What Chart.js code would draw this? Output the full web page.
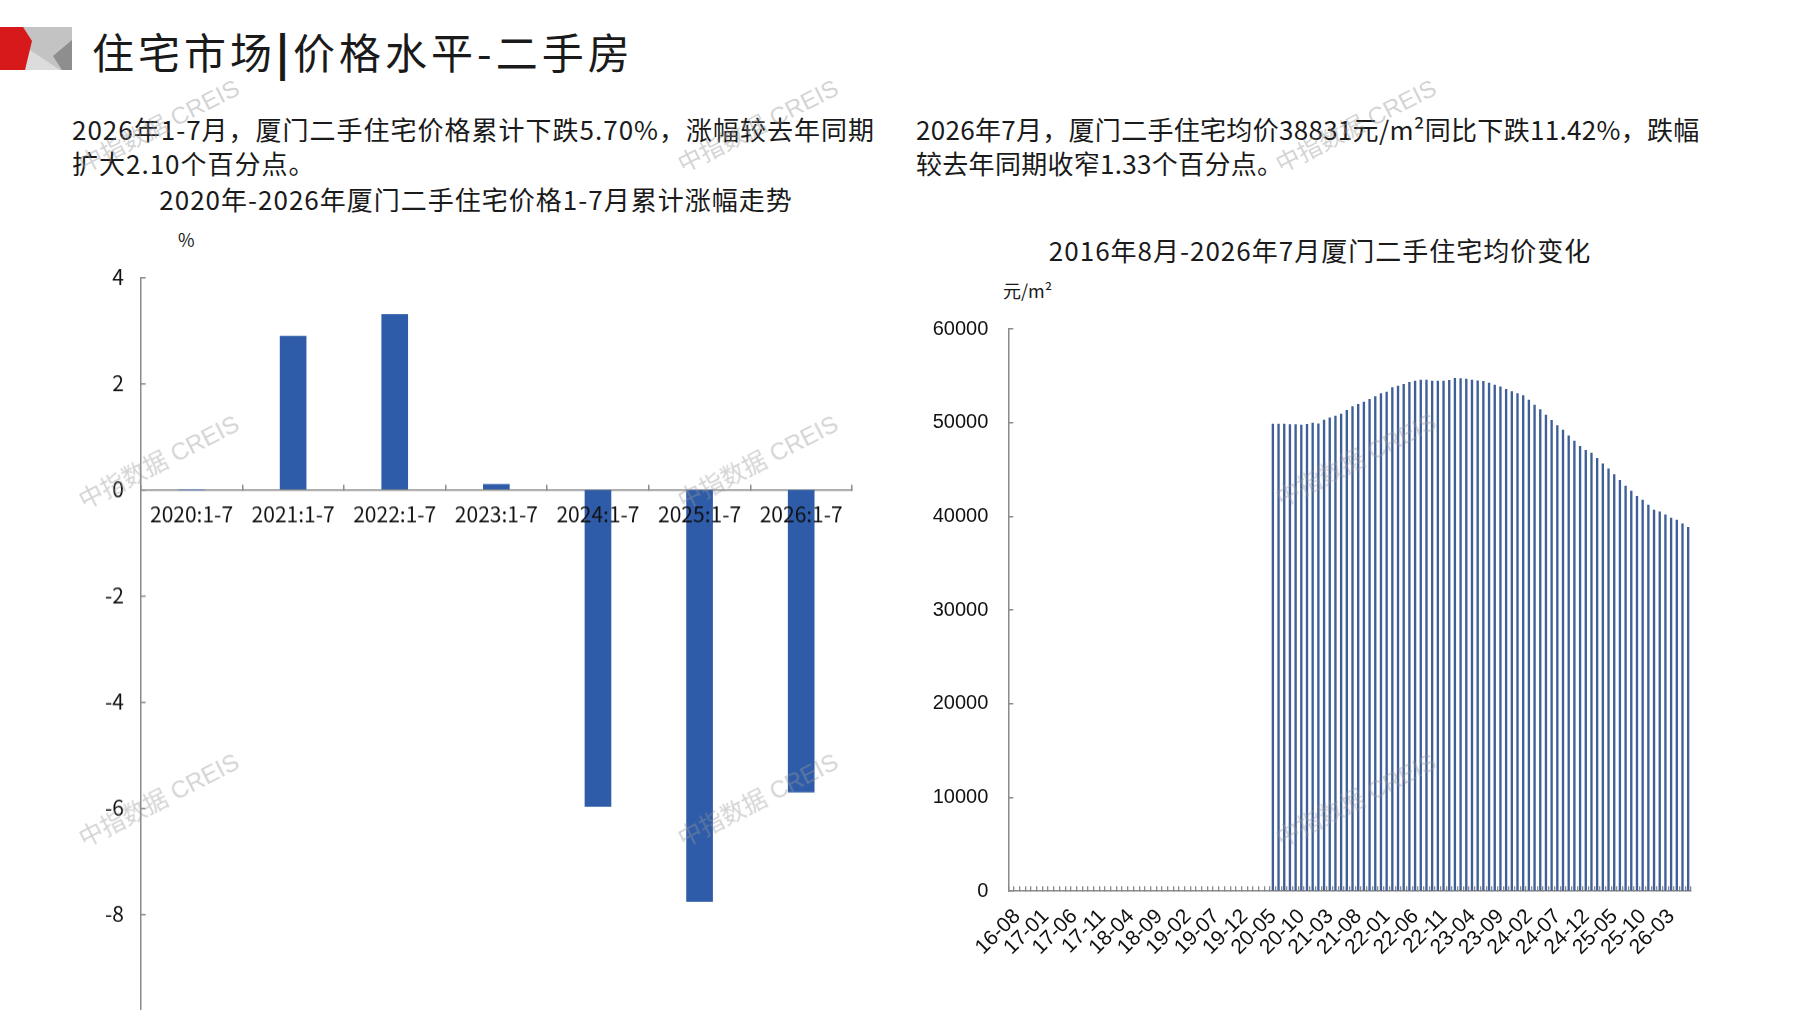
<!DOCTYPE html>
<html lang="zh-CN">
<head>
<meta charset="utf-8">
<title>住宅市场|价格水平-二手房</title>
<script src="https://cdn.jsdelivr.net/npm/chart.js@4.4.1/dist/chart.umd.min.js"></script>
<style>
html, body { margin: 0; padding: 0; background: #fff; }
body { width: 1797px; height: 1010px; overflow: hidden; position: relative;
       font-family: "Noto Sans CJK SC", sans-serif; color: #1a1a1a; }
.abs { position: absolute; white-space: nowrap; }
#head { left: 92px; top: 22px; font-size: 42px; letter-spacing: 4px; line-height: 58px; }
.para { font-size: 26px; line-height: 34px; top: 112px; }
#paraL { left: 72px; letter-spacing: 1px; }
#paraR { left: 916px; letter-spacing: 0.3px; }
.ctitle { font-size: 26px; letter-spacing: 1px; line-height: 34px; transform: translateX(-50%); }
#titleL { left: 476px; top: 182px; }
#titleR { left: 1320px; top: 233px; }
.unit { font-size: 18px; line-height: 24px; }
#unitL { left: 178px; top: 227px; }
#unitR { left: 1003px; top: 278px; }
.box { position: absolute; }
#boxL { left: 60px; top: 243px; width: 820px; height: 810.6px; }
#boxR { left: 920px; top: 292.3px; width: 804px; height: 699.2px; }
.wm { position: absolute; font-size: 24px; font-family: "Liberation Sans", "Noto Sans CJK SC", sans-serif;
      color: rgba(150,150,150,0.42); transform: translate(-50%, -50%) rotate(-27deg);
      white-space: nowrap; pointer-events: none; z-index: 5; }
</style>
</head>
<body>
<svg class="abs" style="left:0;top:27px" width="72" height="44" viewBox="0 0 72 44">
  <rect x="20" y="0" width="52" height="43" fill="#c3c3c3"/>
  <polygon points="27,21 60,43 25,43" fill="#dcdcdc"/>
  <polygon points="53,29 72,13 72,43 62,43" fill="#8e8e8e"/>
  <polygon points="0,0 23,0 32,14 25,43 0,43" fill="#d7191c"/>
</svg>
<div id="head" class="abs">住宅市场<b style="font-weight:900">|</b>价格水平-二手房</div>

<div id="paraL" class="abs para">2026年1-7月，厦门二手住宅价格累计下跌5.70%，涨幅较去年同期<br>扩大2.10个百分点。</div>
<div id="paraR" class="abs para">2026年7月，厦门二手住宅均价38831元/m²同比下跌11.42%，跌幅<br>较去年同期收窄1.33个百分点。</div>

<div id="titleL" class="abs ctitle">2020年-2026年厦门二手住宅价格1-7月累计涨幅走势</div>
<div id="titleR" class="abs ctitle">2016年8月-2026年7月厦门二手住宅均价变化</div>
<div id="unitL" class="abs unit">%</div>
<div id="unitR" class="abs unit">元/m²</div>

<div id="boxL" class="box"><canvas id="ytdChart"></canvas></div>
<div id="boxR" class="box"><canvas id="priceChart"></canvas></div>

<div class="wm" style="left:158px;top:124px">中指数据 CREIS</div>
<div class="wm" style="left:757px;top:124px">中指数据 CREIS</div>
<div class="wm" style="left:1355px;top:124px">中指数据 CREIS</div>
<div class="wm" style="left:158px;top:460px">中指数据 CREIS</div>
<div class="wm" style="left:757px;top:460px">中指数据 CREIS</div>
<div class="wm" style="left:1355px;top:458px">中指数据 CREIS</div>
<div class="wm" style="left:158px;top:798px">中指数据 CREIS</div>
<div class="wm" style="left:757px;top:798px">中指数据 CREIS</div>
<div class="wm" style="left:1355px;top:798px">中指数据 CREIS</div>

<script>
// left chart: cumulative change Jan-Jul, %
const ytdLabels = ['2020:1-7', '2021:1-7', '2022:1-7', '2023:1-7', '2024:1-7', '2025:1-7', '2026:1-7'];
const ytdChange = [0, 2.89, 3.30, 0.10, -5.97, -7.76, -5.70];
const ytdTicks = [-10, -8, -6, -4, -2, 0, 2, 4];

// right chart: monthly average price, yuan/m2 (no data before 2020-06)
const monthLabels = [
  '16-08', '16-09', '16-10', '16-11', '16-12',
  '17-01', '17-02', '17-03', '17-04', '17-05', '17-06', '17-07', '17-08', '17-09', '17-10', '17-11', '17-12',
  '18-01', '18-02', '18-03', '18-04', '18-05', '18-06', '18-07', '18-08', '18-09', '18-10', '18-11', '18-12',
  '19-01', '19-02', '19-03', '19-04', '19-05', '19-06', '19-07', '19-08', '19-09', '19-10', '19-11', '19-12',
  '20-01', '20-02', '20-03', '20-04', '20-05', '20-06', '20-07', '20-08', '20-09', '20-10', '20-11', '20-12',
  '21-01', '21-02', '21-03', '21-04', '21-05', '21-06', '21-07', '21-08', '21-09', '21-10', '21-11', '21-12',
  '22-01', '22-02', '22-03', '22-04', '22-05', '22-06', '22-07', '22-08', '22-09', '22-10', '22-11', '22-12',
  '23-01', '23-02', '23-03', '23-04', '23-05', '23-06', '23-07', '23-08', '23-09', '23-10', '23-11', '23-12',
  '24-01', '24-02', '24-03', '24-04', '24-05', '24-06', '24-07', '24-08', '24-09', '24-10', '24-11', '24-12',
  '25-01', '25-02', '25-03', '25-04', '25-05', '25-06', '25-07', '25-08', '25-09', '25-10', '25-11', '25-12',
  '26-01', '26-02', '26-03', '26-04', '26-05', '26-06', '26-07'
];
const avgPrice = [
  null, null, null, null, null,
  null, null, null, null, null, null, null, null, null, null, null, null,
  null, null, null, null, null, null, null, null, null, null, null, null,
  null, null, null, null, null, null, null, null, null, null, null, null,
  null, null, null, null, null, 49860, 49860, 49860, 49790, 49790, 49750, 49820,
  49970, 49890, 50290, 50530, 50710, 50930, 51320, 51710, 51960, 52210, 52490, 52780,
  53100, 53270, 53740, 53910, 54090, 54310, 54450, 54550, 54550, 54450, 54450, 54450,
  54520, 54730, 54700, 54660, 54550, 54480, 54410, 54230, 54020, 53840, 53560, 53310,
  53100, 52900, 52420, 51880, 51390, 50820, 50250, 49680, 49220, 48610, 48040, 47470,
  47050, 46760, 46190, 45620, 45090, 44450, 43840, 43240, 42710, 42140, 41750, 41210,
  40680, 40500, 40180, 39820, 39610, 39220, 38831
];
const priceTicks = [0, 10000, 20000, 30000, 40000, 50000, 60000];
const labelEvery = 5;

const axisGray = '#8a8a8a';
const cjkFont = '"Noto Sans CJK SC", sans-serif';
const latinFont = '"Liberation Sans", Arial, sans-serif';

// Cumulative change chart
// (the y tick padding also sets the gap above/below the plot, so the box is sized around it)
const ctxYtd = document.getElementById('ytdChart').getContext('2d');
const ytdChart = new Chart(ctxYtd, {
    type: 'bar',
    data: {
        labels: ytdLabels,
        datasets: [{
            data: ytdChange,
            backgroundColor: '#2f5ca8',
            barThickness: 26
        }]
    },
    options: {
        responsive: true,
        maintainAspectRatio: false,
        animation: false,
        layout: { padding: { top: 0, right: 28, bottom: 0, left: 0 } },
        plugins: { legend: { display: false }, tooltip: { enabled: false } },
        scales: {
            x: {
                position: { y: 0 },
                grid: { drawOnChartArea: false, drawTicks: true, tickLength: -6, color: axisGray, lineWidth: 1.5 },
                border: { color: axisGray, width: 1.5 },
                ticks: { color: '#111', font: { family: cjkFont, size: 21 }, padding: 18, z: 1, maxRotation: 0 }
            },
            y: {
                min: ytdTicks[0],
                max: ytdTicks[ytdTicks.length - 1],
                afterBuildTicks: s => { s.ticks = ytdTicks.map(v => ({ value: v })); },
                afterFit: s => { s.width = 80.7; },
                grid: { drawOnChartArea: false, drawTicks: true, tickLength: -5, color: axisGray, lineWidth: 1.5 },
                border: { color: axisGray, width: 1.5 },
                ticks: { color: '#111', font: { family: cjkFont, size: 21 }, padding: 21.7 }
            }
        }
    }
});

// Average price chart
const ctxPrice = document.getElementById('priceChart').getContext('2d');
const priceChart = new Chart(ctxPrice, {
    type: 'bar',
    data: {
        labels: monthLabels,
        datasets: [{
            data: avgPrice,
            backgroundColor: '#3f5f99',
            barThickness: 1.7
        }]
    },
    options: {
        responsive: true,
        maintainAspectRatio: false,
        animation: false,
        layout: { padding: { top: 0, right: 0, bottom: 0, left: 0 } },
        plugins: { legend: { display: false }, tooltip: { enabled: false } },
        scales: {
            x: {
                afterFit: s => { s.height = 100; },
                grid: { drawOnChartArea: false, drawTicks: true, tickLength: -5, color: axisGray, lineWidth: 1.3 },
                border: { color: axisGray, width: 1.5 },
                ticks: {
                    autoSkip: false,
                    minRotation: 45,
                    maxRotation: 45,
                    padding: 18,
                    labelOffset: 6,
                    color: '#111',
                    font: { family: latinFont, size: 21 },
                    callback: (v, i) => (i % labelEvery === 0 ? monthLabels[i] : '')
                }
            },
            y: {
                min: priceTicks[0],
                max: priceTicks[priceTicks.length - 1],
                afterBuildTicks: s => { s.ticks = priceTicks.map(v => ({ value: v })); },
                afterFit: s => { s.width = 88.3; },
                grid: { drawOnChartArea: false, drawTicks: true, tickLength: -5, color: axisGray, lineWidth: 1.5 },
                border: { color: axisGray, width: 1.5 },
                ticks: {
                    color: '#111',
                    padding: 25,
                    font: { family: latinFont, size: 20 },
                    callback: v => String(v)
                }
            }
        }
    }
});
</script>
</body>
</html>
